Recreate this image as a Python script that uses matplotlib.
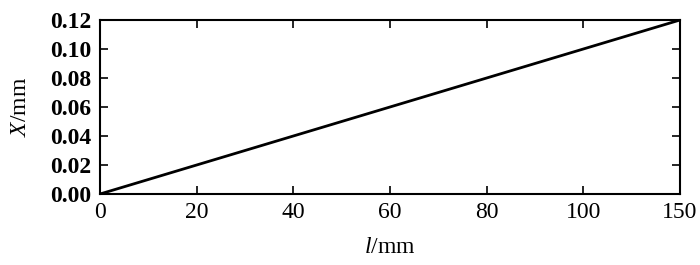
import matplotlib
matplotlib.use("Agg")
import numpy as np
import matplotlib.pyplot as plt

# displacement X along length l
l_mm = [0, 150]
x_mm = [0.0, 0.12]
x_tick_values = [0, 20, 40, 60, 80, 100, 150]
y_ticks = [0.00, 0.02, 0.04, 0.06, 0.08, 0.10, 0.12]

plt.rcParams['font.family'] = ['Liberation Serif', 'DejaVu Serif']
plt.rcParams['mathtext.fontset'] = 'custom'
plt.rcParams['mathtext.it'] = 'Liberation Serif:italic'
plt.rcParams['mathtext.rm'] = 'Liberation Serif'

# the original axis spaces its ticks evenly, so map l onto tick index
tick_pos = np.arange(len(x_tick_values))
l_pos = np.interp(l_mm, x_tick_values, tick_pos)

fig = plt.figure(figsize=(7, 2.65), dpi=100)
ax = fig.add_axes([100 / 700, 1 - 194 / 265, 580 / 700, 174 / 265])

ax.plot(l_pos, x_mm, color='black', linewidth=2)

ax.set_xlim(tick_pos[0], tick_pos[-1])
ax.set_ylim(0, 0.12)
ax.set_xticks(tick_pos)
ax.set_xticklabels([str(v) for v in x_tick_values], fontsize=17)
ax.set_yticks(y_ticks)
ax.set_yticklabels([f"{v:.2f}" for v in y_ticks], fontsize=17, fontweight='bold')
ax.tick_params(direction='in', top=True, right=True, length=6, width=1.2, pad=6)
for s in ax.spines.values():
    s.set_linewidth(1.5)

ax.set_xlabel(r"$l$/mm", fontsize=17, labelpad=10)
ax.set_ylabel(r"$X$/mm", fontsize=17, labelpad=14)

fig.savefig("out.png", dpi=100)
